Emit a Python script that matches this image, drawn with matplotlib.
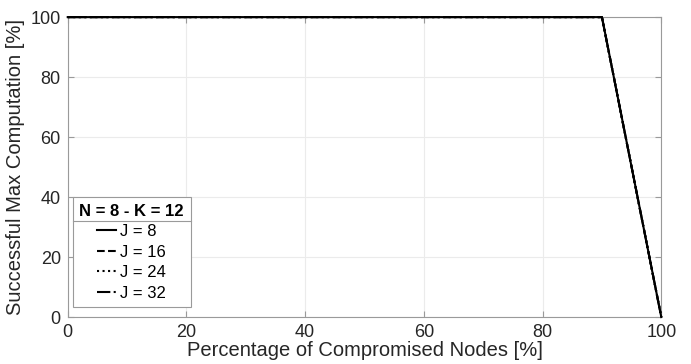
import numpy as np
import matplotlib
matplotlib.use("Agg")
import matplotlib.pyplot as plt
from matplotlib.lines import Line2D

plt.rcParams['font.family'] = ['Liberation Sans', 'DejaVu Sans']

# data
compromised = [0, 10, 20, 30, 40, 50, 60, 70, 80, 90, 100]
j8 = [100, 100, 100, 100, 100, 100, 100, 100, 100, 100, 0]
j16 = [100, 100, 100, 100, 100, 100, 100, 100, 100, 100, 0]
j24 = [100, 100, 100, 100, 100, 100, 100, 100, 100, 100, 0]
j32 = [100, 100, 100, 100, 100, 100, 100, 100, 100, 100, 0]
labels = ['J = 8', 'J = 16', 'J = 24', 'J = 32']
styles = ['-', '--', ':', '-.']

fig = plt.figure(figsize=(6.91, 3.64), dpi=100)
ax = fig.add_axes([0.098, 0.129, 0.859, 0.824])

for y, lab, ls in zip([j8, j16, j24, j32], labels, styles):
    ax.plot(compromised, y, color='black', linestyle=ls, linewidth=1.5,
            label=lab, clip_on=False, zorder=3)

ax.set_xlim(0, 100)
ax.set_ylim(0, 100)
ax.set_xticks([0, 20, 40, 60, 80, 100])
ax.set_yticks([0, 20, 40, 60, 80, 100])
ax.grid(True, color='#ebebeb', linewidth=0.8)
ax.set_axisbelow(True)
ax.tick_params(direction='in', length=4, color='#9a9a9a', labelsize=13,
               labelcolor='#262626', top=True, right=True)
ax.tick_params(axis='x', pad=5)
ax.tick_params(axis='y', pad=5)
for s in ax.spines.values():
    s.set_color('#9a9a9a')
    s.set_linewidth(0.8)
ax.set_xlabel('Percentage of Compromised Nodes [%]', fontsize=14.5, color='#262626', labelpad=0)
ax.set_ylabel('Successful Max Computation [%]', fontsize=14.5, color='#262626', labelpad=4)

# legend anchored at its top-left corner like the reference
leg = ax.legend(loc='upper left', bbox_to_anchor=(0.0084, 0.40), title='N = 8 - K = 12',
                fontsize=12, title_fontproperties={'weight': 'bold', 'size': 12},
                frameon=True, fancybox=False, edgecolor='#9a9a9a', framealpha=1,
                handlelength=1.1, handletextpad=0.25, borderaxespad=0,
                borderpad=0.4, labelspacing=0.33, alignment='center')
leg.get_frame().set_linewidth(0.8)

# separator under legend title
fig.canvas.draw()
r = fig.canvas.get_renderer()
fb = leg.get_frame().get_window_extent(r)
tb = leg.get_title().get_window_extent(r)
inv = fig.transFigure.inverted()
x0, ysep = inv.transform((fb.x0, tb.y0 - 2))
x1, _ = inv.transform((fb.x1, tb.y0 - 2))
fig.add_artist(Line2D([x0, x1], [ysep, ysep], color='#9a9a9a', linewidth=0.8))

fig.savefig('out.png', dpi=100)
